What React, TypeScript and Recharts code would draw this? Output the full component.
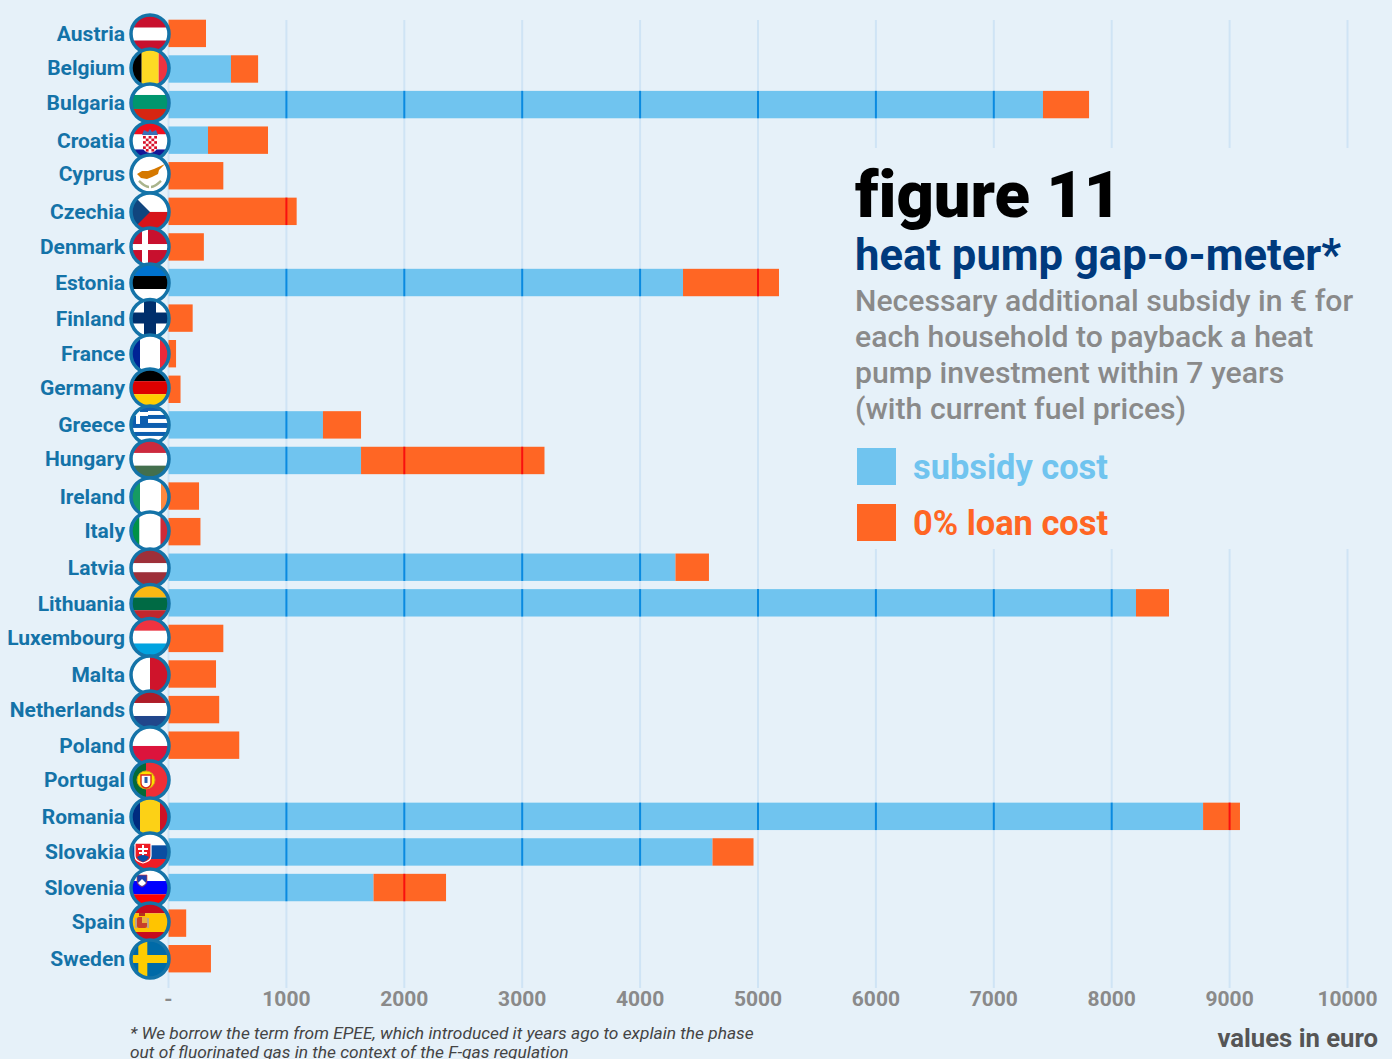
import { BarChart, Bar, XAxis, YAxis, CartesianGrid, Legend } from "recharts";

const countries = [
  "Austria", "Belgium", "Bulgaria", "Croatia", "Cyprus", "Czechia", "Denmark", "Estonia", "Finland",
  "France", "Germany", "Greece", "Hungary", "Ireland", "Italy", "Latvia", "Lithuania", "Luxembourg",
  "Malta", "Netherlands", "Poland", "Portugal", "Romania", "Slovakia", "Slovenia", "Spain", "Sweden",
];
const subsidyCost = [
  0, 530, 7417, 335, 0, 0, 0, 4364, 0,
  0, 0, 1310, 1633, 0, 0, 4300, 8206, 0,
  0, 0, 0, 0, 8775, 4614, 1739, 0, 0,
];
const loanCost = [
  318, 230, 391, 509, 465, 1087, 300, 814, 205,
  64, 102, 323, 1556, 259, 271, 284, 280, 465,
  403, 430, 600, 0, 313, 348, 615, 150, 360,
];
const xTicks = [0, 1000, 2000, 3000, 4000, 5000, 6000, 7000, 8000, 9000, 10000];

const descriptionLines = [
  "Necessary additional subsidy in € for",
  "each household to payback a heat",
  "pump investment within 7 years",
  "(with current fuel prices)",
];

// the labels and flags were placed by hand, so they sit slightly off the row centre
const rowNudge = [
  0.5, -1, -1.7, 0.7, -1.9, 0.5, 0, 0.4, 0.3,
  0.2, -1.4, 0, -1.6, 0.8, -0.8, 0.6, 0.6, -1,
  0.9, 0.3, 0.7, -0.9, 0.5, 0, 0.4, -1.2, 0.2,
];

const BG = "#E6F1F9";
const BLUE = "#70C4EF";
const ORANGE = "#FF6624";
const LABEL = "#1473A8";
const GREY = "#8A8A8A";
const GRID = "#CFE4F5";
const FONT = "Roboto, sans-serif";

const chartData = countries.map((name, i) => ({ name, subsidy: subsidyCost[i], loan: loanCost[i] }));

// bar segment with the grid lines showing through it in a darker tone
function SegmentWithGrid({ x, y, width, height, value, fill, lineColor }: any) {
  const [start, end] = value as [number, number];
  if (!(end > start)) return null;
  const perUnit = width / (end - start);
  return (
    <g>
      <rect x={x} y={y} width={width} height={height} fill={fill} />
      {xTicks
        .filter((t) => t > start && t < end)
        .map((t) => (
          <line
            key={t}
            x1={x + (t - start) * perUnit}
            x2={x + (t - start) * perUnit}
            y1={y}
            y2={y + height}
            stroke={lineColor}
            strokeWidth={2}
          />
        ))}
    </g>
  );
}

// horizontal bands: colours top to bottom, cuts are the y of each boundary
function HBands({ colors, cuts }: { colors: string[]; cuts: number[] }) {
  const edges = [-22, ...cuts, 22];
  return (
    <>
      {colors.map((c, i) => (
        <rect key={i} x={-22} y={edges[i]} width={44} height={edges[i + 1] - edges[i]} fill={c} />
      ))}
    </>
  );
}

function VBands({ colors, cuts }: { colors: string[]; cuts: number[] }) {
  const edges = [-22, ...cuts, 22];
  return (
    <>
      {colors.map((c, i) => (
        <rect key={i} x={edges[i]} y={-22} width={edges[i + 1] - edges[i]} height={44} fill={c} />
      ))}
    </>
  );
}

function CroatiaShield() {
  const cells = [];
  for (let r = 0; r < 6; r++) {
    for (let c = 0; c < 5; c++) {
      if ((r + c) % 2 === 0) {
        cells.push(<rect key={`${r}-${c}`} x={-7 + c * 2.8} y={-5 + r * 2.6} width={2.8} height={2.6} fill="#D8102A" />);
      }
    }
  }
  return (
    <>
      <path d="M-7 -5 H7 V6 Q7 11 0 12 Q-7 11 -7 6 Z" fill="#fff" />
      {cells}
      <path d="M-8 -6 L-6 -11 L-2 -9 L0 -12 L2 -9 L6 -11 L8 -6 Z" fill="#3A6FB5" />
    </>
  );
}

const flags: Record<string, React.ReactNode> = {
  Austria: <HBands colors={["#C8102E", "#fff", "#C8102E"]} cuts={[-6.3, 6.5]} />,
  Belgium: <VBands colors={["#000", "#FDDA24", "#EF3340"]} cuts={[-8.3, 8.7]} />,
  Bulgaria: <HBands colors={["#fff", "#00966E", "#D62612"]} cuts={[-8, 6]} />,
  Croatia: (
    <>
      <HBands colors={["#F00F1E", "#fff", "#171796"]} cuts={[-6.5, 8.5]} />
      <CroatiaShield />
    </>
  ),
  Cyprus: (
    <>
      <rect x={-22} y={-22} width={44} height={44} fill="#fff" />
      <path d="M-13 0 L-8 -3 L-2 -3 L4 -5 L15 -10 L9 -4 L8 0 L2 3 L-3 5 L-9 4 Z" fill="#D57800" />
      <path d="M-11 7 Q-5 13 -1 13 M11 7 Q5 13 1 13" stroke="#A9B48C" strokeWidth={2.4} fill="none" />
    </>
  ),
  Czechia: (
    <>
      <HBands colors={["#fff", "#D7141A"]} cuts={[0]} />
      <path d="M-22 -22 L0 0 L-22 22 Z" fill="#11457E" />
    </>
  ),
  Denmark: (
    <>
      <rect x={-22} y={-22} width={44} height={44} fill="#C8102E" />
      <rect x={-8} y={-22} width={6} height={44} fill="#fff" />
      <rect x={-22} y={-3} width={44} height={6} fill="#fff" />
    </>
  ),
  Estonia: <HBands colors={["#0072CE", "#000", "#fff"]} cuts={[-7, 6]} />,
  Finland: (
    <>
      <rect x={-22} y={-22} width={44} height={44} fill="#fff" />
      <rect x={-6} y={-22} width={12} height={44} fill="#002F6C" />
      <rect x={-22} y={-6} width={44} height={11} fill="#002F6C" />
    </>
  ),
  France: <VBands colors={["#002395", "#fff", "#ED2939"]} cuts={[-10, 10]} />,
  Germany: <HBands colors={["#000", "#DD0000", "#FFCE00"]} cuts={[-6.8, 6.2]} />,
  Greece: (
    <>
      <HBands
        colors={["#0D5EAF", "#fff", "#0D5EAF", "#fff", "#0D5EAF", "#fff", "#0D5EAF", "#fff", "#0D5EAF"]}
        cuts={[-14, -10, -6, -2, 3, 7, 11, 15]}
      />
      <rect x={-22} y={-22} width={20} height={21} fill="#0D5EAF" />
      <rect x={-14} y={-22} width={4} height={21} fill="#fff" />
      <rect x={-22} y={-13} width={20} height={4} fill="#fff" />
    </>
  ),
  Hungary: <HBands colors={["#CD2A3E", "#fff", "#436F4D"]} cuts={[-6, 6.7]} />,
  Ireland: <VBands colors={["#169B62", "#fff", "#FF883E"]} cuts={[-10, 11]} />,
  Italy: <VBands colors={["#009246", "#fff", "#CE2B37"]} cuts={[-10.5, 10.5]} />,
  Latvia: <HBands colors={["#9E3039", "#fff", "#9E3039"]} cuts={[-4.7, 4.3]} />,
  Lithuania: <HBands colors={["#FDB913", "#006A44", "#C1272D"]} cuts={[-6, 6.7]} />,
  Luxembourg: <HBands colors={["#EF3340", "#fff", "#00A3E0"]} cuts={[-6.7, 6]} />,
  Malta: <VBands colors={["#fff", "#CF142B"]} cuts={[0]} />,
  Netherlands: <HBands colors={["#AE1C28", "#fff", "#21468B"]} cuts={[-7, 6]} />,
  Poland: <HBands colors={["#fff", "#DC143C"]} cuts={[0]} />,
  Portugal: (
    <>
      <VBands colors={["#046A38", "#EE2E36"]} cuts={[-4]} />
      <circle cx={-4} cy={0} r={9} fill="#FFE000" stroke="#D4A017" />
      <path d="M-9 -5 H1 V3 Q1 7 -4 8 Q-9 7 -9 3 Z" fill="#fff" stroke="#DA291C" strokeWidth={1.4} />
      <rect x={-5.5} y={-3} width={3} height={6} fill="#2A5DAA" />
    </>
  ),
  Romania: <VBands colors={["#002B7F", "#FCD116", "#CE1126"]} cuts={[-10, 10]} />,
  Slovakia: (
    <>
      <HBands colors={["#fff", "#0B4EA2", "#EE1C25"]} cuts={[-6.7, 7]} />
      <path d="M-15 -9 H1 V4 Q1 9 -7 11 Q-15 9 -15 4 Z" fill="#EE1C25" stroke="#fff" strokeWidth={1.2} />
      <path d="M-8 -7 H-6 V-4 H-2 V-2 H-6 V0 H-3 V2 H-6 V5 H-8 V2 H-11 V0 H-8 V-2 H-12 V-4 H-8 Z" fill="#fff" />
      <path d="M-13 5 Q-7 1 -1 5 Q-3 9 -7 10 Q-11 9 -13 5 Z" fill="#0B4EA2" />
    </>
  ),
  Slovenia: (
    <>
      <HBands colors={["#fff", "#0000FF", "#FF0000"]} cuts={[-7, 6.3]} />
      <path d="M-13 -13 H-3 V-7 Q-3 -3 -8 -1 Q-13 -3 -13 -7 Z" fill="#1B3FAF" stroke="#E8352E" strokeWidth={0.6} />
      <path d="M-12 -5 L-8 -9 L-4 -5 Q-6 -2.5 -8 -2 Q-10 -2.5 -12 -5 Z" fill="#fff" />
    </>
  ),
  Spain: (
    <>
      <HBands colors={["#C60B1E", "#FFC400", "#C60B1E"]} cuts={[-8.7, 10]} />
      <rect x={-13} y={-5} width={10} height={11} rx={2} fill="#C8402A" />
      <rect x={-8} y={-5} width={5} height={6} fill="#E8B33F" />
      <rect x={-15} y={-4} width={2} height={10} fill="#B9A58A" />
      <rect x={-3} y={-4} width={2} height={10} fill="#B9A58A" />
      <rect x={-11} y={-9} width={6} height={3} fill="#B5301F" />
    </>
  ),
  Sweden: (
    <>
      <rect x={-22} y={-22} width={44} height={44} fill="#006AA7" />
      <rect x={-11.7} y={-22} width={9} height={44} fill="#FECC00" />
      <rect x={-22} y={-4} width={44} height={8} fill="#FECC00" />
    </>
  ),
};

function CountryTick({ x, y, payload, index }: any) {
  const name: string = payload.value;
  const cy = y + rowNudge[index];
  return (
    <g>
      <text x={x - 43.5} y={cy + 7} textAnchor="end" fontFamily={FONT} fontWeight={700} fontSize={21} fill={LABEL}>
        {name}
      </text>
      <g transform={`translate(${x - 18.5},${cy})`}>
        <clipPath id={`flag-${name}`}>
          <circle r={19} />
        </clipPath>
        <g clipPath={`url(#flag-${name})`}>{flags[name]}</g>
        <circle r={19} fill="none" stroke={LABEL} strokeWidth={3.5} />
      </g>
    </g>
  );
}

function SwatchLegend({ payload }: any) {
  return (
    <div>
      {payload.map((entry: any) => (
        <div key={entry.value} style={{ display: "flex", alignItems: "center", height: 37, marginBottom: 19 }}>
          <div style={{ width: 39, height: 37, background: entry.color, marginRight: 17 }} />
          <span style={{ font: `700 34.4px ${FONT}`, color: entry.color, whiteSpace: "nowrap" }}>{entry.value}</span>
        </div>
      ))}
    </div>
  );
}

export default function App() {
  return (
    <div style={{ position: "absolute", left: 0, top: 0, width: 1392, height: 1059, background: BG, overflow: "hidden" }}>
      <BarChart
        width={1392}
        height={1059}
        data={chartData}
        layout="vertical"
        margin={{ top: 15.7, right: 44.5, bottom: 0, left: 0 }}
      >
        <CartesianGrid horizontal={false} stroke={GRID} strokeWidth={2} y={20} height={968} />
        <XAxis
          type="number"
          domain={[0, 10000]}
          ticks={xTicks}
          interval={0}
          height={71}
          axisLine={false}
          tickLine={false}
          tickMargin={0}
          tickSize={0}
          tick={{ fontFamily: FONT, fontWeight: 700, fontSize: 21, fill: GREY, dy: 3 }}
          tickFormatter={(v: number) => (v === 0 ? "-" : String(v))}
        />
        <YAxis
          type="category"
          dataKey="name"
          width={168.5}
          interval={0}
          axisLine={false}
          tickLine={false}
          tickSize={0}
          tickMargin={0}
          padding={{ top: 0, bottom: 11.4 }}
          tick={<CountryTick />}
        />
        <Bar
          dataKey="subsidy"
          name="subsidy cost"
          stackId="cost"
          fill={BLUE}
          barSize={27.4}
          isAnimationActive={false}
          shape={<SegmentWithGrid lineColor="#0A8AE0" />}
        />
        <Bar
          dataKey="loan"
          name="0% loan cost"
          stackId="cost"
          fill={ORANGE}
          barSize={27.4}
          isAnimationActive={false}
          shape={<SegmentWithGrid lineColor="#F81010" />}
        />
        <Legend
          layout="vertical"
          align="center"
          verticalAlign="middle"
          itemSorter={null}
          content={<SwatchLegend />}
          wrapperStyle={{ position: "absolute", left: 857, top: 448, width: 400, bottom: "auto", zIndex: 2 }}
        />
      </BarChart>

      <div style={{ position: "absolute", left: 800, top: 148, width: 592, height: 401, background: BG, zIndex: 1 }}>
        <div style={{ position: "absolute", left: 55, top: 7, font: `900 65px/80px ${FONT}`, fontVariantLigatures: "none", color: "#000", whiteSpace: "nowrap" }}>figure 11</div>
        <div style={{ position: "absolute", left: 55, top: 83, font: `700 43.6px/50px ${FONT}`, color: "#003A7D", whiteSpace: "nowrap" }}>heat pump gap-o-meter*</div>
        {descriptionLines.map((line, i) => (
          <div key={line} style={{ position: "absolute", left: 55, top: 135 + i * 36, font: `500 30.2px/36px ${FONT}`, color: GREY, whiteSpace: "nowrap" }}>{line}</div>
        ))}
      </div>

      <div style={{ position: "absolute", left: 130, top: 1024, font: `italic 400 17.35px/19px ${FONT}`, color: "#444", whiteSpace: "nowrap" }}>
        * We borrow the term from EPEE, which introduced it years ago to explain the phase
        <br />
        out of fluorinated gas in the context of the F-gas regulation
      </div>
      <div style={{ position: "absolute", right: 14, top: 1025, font: `700 25.7px/27px ${FONT}`, color: "#555", whiteSpace: "nowrap" }}>values in euro</div>
    </div>
  );
}
